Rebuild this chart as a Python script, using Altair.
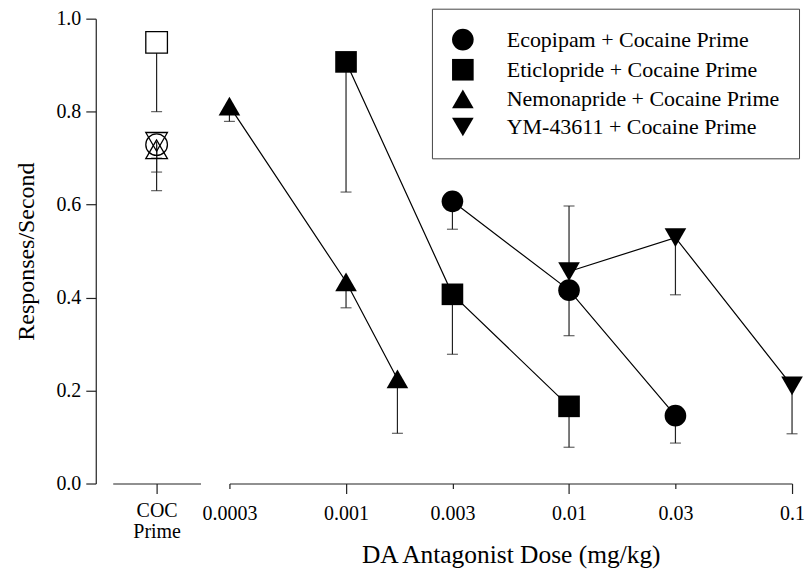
import altair as alt
import pandas as pd

FONT = "Liberation Serif"

drugs = ["Ecopipam + Cocaine Prime", "Eticlopride + Cocaine Prime",
         "Nemonapride + Cocaine Prime", "YM-43611 + Cocaine Prime"]
shapes = ["circle", "square", "triangle-up", "triangle-down"]

# Dose-response data (mean and end of the error bar)
eco_dose = [0.003, 0.01, 0.03]
eco_mean = [0.607, 0.416, 0.146]
eco_err = [0.547, 0.318, 0.087]

eti_dose = [0.001, 0.003, 0.01]
eti_mean = [0.907, 0.407, 0.166]
eti_err = [0.627, 0.278, 0.078]

nem_dose = [0.0003, 0.001, 0.0017]
nem_mean = [0.812, 0.434, 0.225]
nem_err = [0.779, 0.378, 0.108]

ym_dose = [0.01, 0.03, 0.1]
ym_mean = [0.456, 0.529, 0.210]
ym_err = [0.597, 0.406, 0.107]

# Cocaine prime alone (one per drug group, same order as drugs)
coc_mean = [0.729, 0.949, 0.719, 0.735]
coc_err = [0.670, 0.800, 0.700, 0.630]
coc_fill = ["transparent", "white", "transparent", "transparent"]

dose_ticks = [0.0003, 0.001, 0.003, 0.01, 0.03, 0.1]
y_ticks = [0.0, 0.2, 0.4, 0.6, 0.8, 1.0]

rows = []
for name, d, m, e in zip(drugs,
                         [eco_dose, eti_dose, nem_dose, ym_dose],
                         [eco_mean, eti_mean, nem_mean, ym_mean],
                         [eco_err, eti_err, nem_err, ym_err]):
    for di, mi, ei in zip(d, m, e):
        rows.append({"drug": name, "dose": di, "mean": mi, "err": ei})
df = pd.DataFrame(rows)

coc = pd.DataFrame({"grp": ["COC Prime"] * 4, "drug": drugs, "shp": shapes,
                    "mean": coc_mean, "err": coc_err, "fillc": coc_fill})

# ---------------- left panel: cocaine prime ----------------
xl = alt.X("grp:N", scale=alt.Scale(type="point", padding=0.5),
           axis=alt.Axis(title=None, labelExpr="['COC', 'Prime']", labelAngle=0,
                         tickSize=10, labelPadding=7, labelFontSize=20,
                         labelLineHeight=21, domain=True))
yl = alt.Y("mean:Q", scale=alt.Scale(domain=[0, 1], nice=False, zero=False),
           axis=alt.Axis(values=y_ticks, format=".1f", offset=17, tickSize=10,
                         labelPadding=5, labelFontSize=20, grid=False,
                         title="Responses/Second", titleFontSize=24, titlePadding=17))

left_rule = alt.Chart(coc).mark_rule(color="#222", strokeWidth=1.2).encode(
    x=xl, y=yl, y2="err:Q")
left_cap = alt.Chart(coc).mark_tick(orient="horizontal", color="#222", size=11,
                                    thickness=1.2).encode(x=xl, y="err:Q")
left_pts = alt.Chart(coc).mark_point(filled=False, color="black", strokeWidth=1.3,
                                     size=470, opacity=1).encode(
    x=xl, y="mean:Q",
    shape=alt.Shape("shp:N", scale=None),
    fill=alt.Fill("fillc:N", scale=None))
left = alt.layer(left_rule, left_cap, left_pts).properties(width=88, height=466)

# ---------------- right panel: antagonist doses ----------------
major_test = "abs(log(datum.value)/LN10 - round(log(datum.value)/LN10)) < 0.01"
xr = alt.X("dose:Q", scale=alt.Scale(type="log", domain=[0.0003, 0.1], nice=False),
           axis=alt.Axis(values=dose_ticks, format="~g", labelFlush=False,
                         labelFontSize=20,
                         labelPadding={"condition": {"test": major_test, "value": 10},
                                       "value": 15},
                         tickSize={"condition": {"test": major_test, "value": 10},
                                   "value": 5},
                         title="DA Antagonist Dose (mg/kg)", titleFontSize=25.5,
                         titlePadding=19, grid=False))
yr = alt.Y("mean:Q", scale=alt.Scale(domain=[0, 1], nice=False, zero=False), axis=None)

base = alt.Chart(df)
lines = base.mark_line(color="black", strokeWidth=1.2).encode(
    x=xr, y=yr, detail="drug:N")
rules = base.mark_rule(color="#222", strokeWidth=1.2).encode(x=xr, y=yr, y2="err:Q")
caps = base.mark_tick(orient="horizontal", color="#222", size=11, thickness=1.2).encode(
    x=xr, y=alt.Y("err:Q", scale=alt.Scale(domain=[0, 1], nice=False, zero=False), axis=None))
pts = base.mark_point(filled=True, color="black", size=470, opacity=1).encode(
    x=xr, y=yr,
    shape=alt.Shape("drug:N", scale=alt.Scale(domain=drugs, range=shapes),
                    legend=alt.Legend(title=None, orient="none", legendX=203, legendY=-10,
                                      padding=19, rowPadding=2.2, labelOffset=32,
                                      labelFontSize=22, labelFont=FONT, labelColor="black",
                                      labelLimit=500, symbolSize=470,
                                      symbolFillColor="black", symbolStrokeColor="black",
                                      symbolOpacity=1,
                                      fillColor="white", strokeColor="#444")))
right = alt.layer(lines, rules, caps, pts).properties(width=564, height=466)

chart = alt.hconcat(left, right, spacing=29, bounds="flush").resolve_scale(
    x="independent", y="independent", shape="independent"
).properties(
    padding={"left": 15, "top": 7, "right": 2, "bottom": 5},
    background="white"
).configure_view(stroke=None).configure_axis(
    labelFont=FONT, titleFont=FONT, labelColor="black", titleColor="black",
    domainColor="#222", tickColor="#222", domainWidth=1.2, tickWidth=1.2,
    titleFontWeight="normal"
)

chart.save("out.html", embed_options={"renderer": "svg", "actions": False})
